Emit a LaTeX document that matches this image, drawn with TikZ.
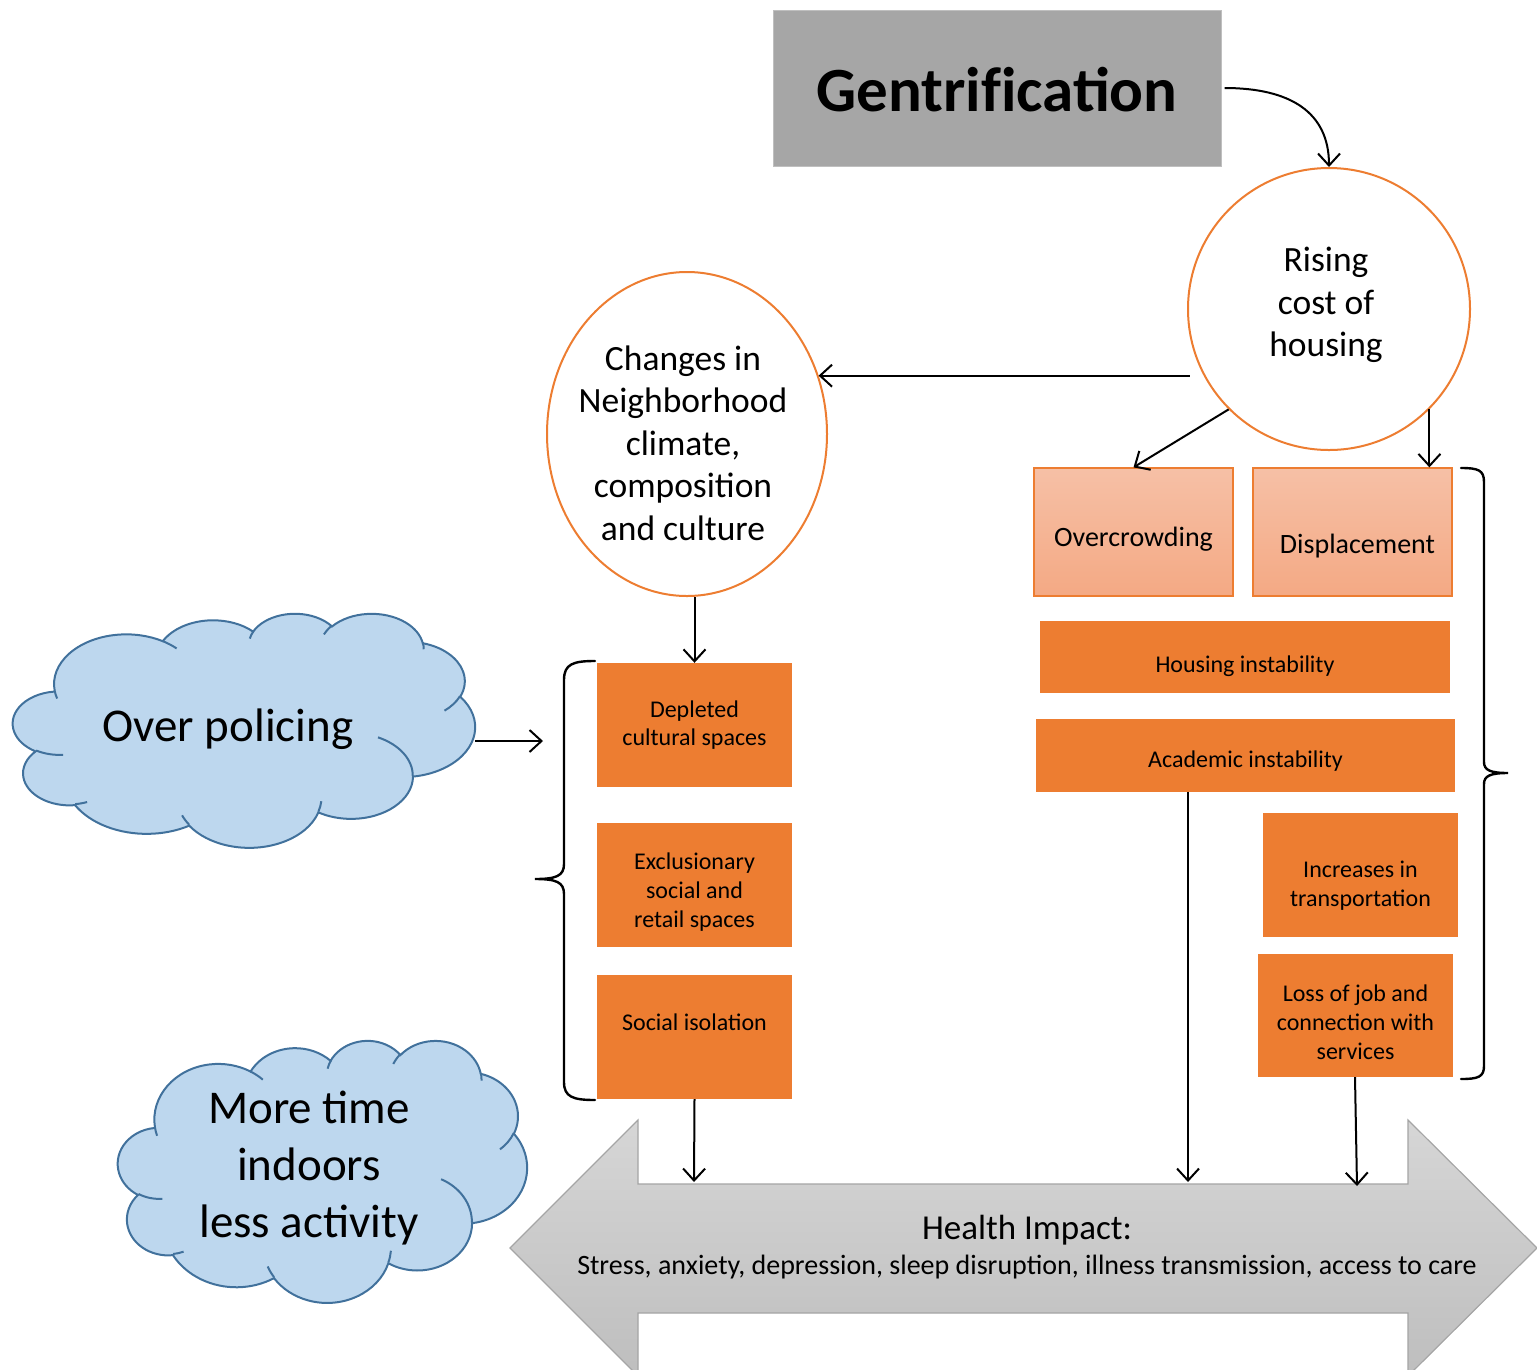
\documentclass[tikz,border=0pt]{standalone}
\usepackage{fontspec}
\setmainfont{Carlito}
\usetikzlibrary{arrows.meta,shapes.geometric}
\definecolor{gentgray}{HTML}{A6A6A6}
\definecolor{gentline}{HTML}{BFBFBF}
\definecolor{orng}{HTML}{ED7D31}
\definecolor{salmtop}{HTML}{F6C0A6}
\definecolor{salmbot}{HTML}{F4A984}
\definecolor{cloudfill}{HTML}{BDD7EE}
\definecolor{cloudline}{HTML}{41719C}
\definecolor{hatop}{HTML}{D6D6D6}
\definecolor{habot}{HTML}{BEBEBE}
\definecolor{haline}{HTML}{A5A5A5}
\newcommand\fsz[2]{\fontsize{#1}{#2}\selectfont}
\newcommand\lowered[2]{\raisebox{-#1}[\height][\depth]{\begin{tabular}{@{}c@{}}#2\end{tabular}}}
% PowerPoint-like cloud in a 432 x 432 frame
\newcommand\drawcloud[4]{%
\begin{scope}[shift={(#1,#2)},xscale=#3,yscale=#4]
\filldraw[cloudsty] (39.00,143.70)
 arc[start angle=172.25,end angle=300.37,x radius=67.53,y radius=91.90]
 arc[start angle=-152.02,end angle=-45.45,x radius=53.33,y radius=72.67]
 arc[start angle=-153.49,end angle=-37.33,x radius=43.65,y radius=59.45]
 arc[start angle=-139.72,end angle=-10.22,x radius=48.57,y radius=65.95]
 arc[start angle=-74.77,end angle=23.21,x radius=53.33,y radius=72.73]
 arc[start angle=-37.52,end angle=81.87,x radius=67.75,y radius=92.20]
 arc[start angle=0.46,end angle=121.98,x radius=57.85,y radius=78.67]
 arc[start angle=16.85,end angle=146.22,x radius=67.52,y radius=92.15]
 arc[start angle=58.98,end angle=150.18,x radius=77.20,y radius=105.43]
 arc[start angle=83.31,end angle=223.12,x radius=43.60,y radius=59.18]
 arc[start angle=120.36,end angle=264.11,x radius=43.45,y radius=59.45]
 -- cycle;
\draw[cloudfold]
 (46.93,261.77) arc[start angle=85.55,end angle=120.36,x radius=43.45,y radius=59.45]
 (69.28,348.99) arc[start angle=68.23,end angle=83.31,x radius=43.60,y radius=59.18]
 (164.78,390.90) arc[start angle=146.22,end angle=158.47,x radius=67.52,y radius=92.15]
 (288.27,347.51) arc[start angle=4.74,end angle=16.85,x radius=67.52,y radius=92.15]
 (341.29,229.54) arc[start angle=-64.03,end angle=0.46,x radius=57.85,y radius=78.67]
 (417.98,153.54) arc[start angle=23.21,end angle=49.64,x radius=53.33,y radius=72.73]
 (383.24,54.26) arc[start angle=-10.22,end angle=0.82,x radius=48.57,y radius=65.95]
 (290.78,39.52) arc[start angle=-156.29,end angle=-139.72,x radius=48.57,y radius=65.95]
 (221.41,47.20) arc[start angle=-167.72,end angle=-153.49,x radius=43.65,y radius=59.45]
 (140.00,51.92) arc[start angle=-59.63,end angle=-45.74,x radius=67.53,y radius=91.90]
 (41.27,157.89) arc[start angle=163.20,end angle=172.25,x radius=67.53,y radius=91.90];
\end{scope}}
\begin{document}
\begin{tikzpicture}[x=1pt,y=-1pt,
  arr/.style={line width=2pt,-{Straight Barb[length=12pt,width=22pt,line width=2pt]}},
  bracesty/.style={line width=2.4pt,line cap=round},
  cloudsty/.style={fill=cloudfill,draw=cloudline,line width=2pt},
  cloudfold/.style={draw=cloudline,line width=2pt},
  lightbox/.style={rectangle,draw=orng,line width=1.3pt,top color=salmtop,bottom color=salmbot,inner sep=0pt,font=\fsz{28}{33.6}},
  solidbox/.style={rectangle,fill=orng,inner sep=0pt,align=center,font=\fsz{24}{28.8}},
  bigtxt/.style={align=center,font=\fsz{35.5}{42.6},inner sep=0pt},
  cloudtxt/.style={align=center,font=\fsz{47}{57},inner sep=0pt},
  outline/.style={inner sep=0pt,outer sep=0pt}
]
\useasboundingbox (0,0) rectangle (1537,1369);
\clip (0,0) rectangle (1537,1369);

% ---------- health impact double arrow ----------
\path[top color=hatop,bottom color=habot,draw=haline,line width=1.2pt]
  (510,1248) -- (638,1120) -- (638,1184) -- (1408,1184) -- (1408,1120) -- (1537,1248)
  -- (1408,1376) -- (1408,1313) -- (638,1313) -- (638,1376) -- cycle;
\node[align=center,inner sep=0pt] (health) at (1027,1247)
  {\fsz{35}{42}Health Impact:\\[9pt]\fsz{28}{33.6}Stress, anxiety, depression, sleep disruption, illness transmission, access to care};
\coordinate (hit1) at (694,1182);
\coordinate (hit2) at (1188,1182);
\coordinate (hit3) at (1357,1186);

% ---------- top ----------
\node[rectangle,fill=gentgray,draw=gentline,line width=1pt,minimum width=448pt,minimum height=156pt,inner sep=0pt,
  font=\fsz{63}{75}\bfseries] (gent) at (997,88) {\raisebox{-2pt}[\height][\depth]{Gentrif\kern0pt ication}};
\node[circle,draw=orng,line width=2pt,fill=white,minimum size=282pt,inner sep=0pt] (rise) at (1329,309) {};
\node[bigtxt] (risetxt) at (1326,305) {Rising\\cost of\\housing};
\node[ellipse,draw=orng,line width=2pt,fill=white,minimum width=280pt,minimum height=324pt,inner sep=0pt] (changes) at (687,434) {};
\node[bigtxt] (changestxt) at (683,443) {Changes in\\Neighborhood\\climate,\\composition\\and culture};

% ---------- right column ----------
\node[lightbox,minimum width=199pt,minimum height=128pt] (over) at (1133.5,532) {\raisebox{-7pt}[\height][\depth]{Overcrowding}};
\node[lightbox,minimum width=199pt,minimum height=128pt] (disp) at (1352.5,532) {\hspace*{10pt}\raisebox{-14pt}[\height][\depth]{Displacement}};
\node[solidbox,minimum width=410pt,minimum height=72pt] (housing) at (1245,657) {\raisebox{-9pt}[\height][\depth]{Housing instability}};
\node[solidbox,minimum width=419pt,minimum height=73pt] (academic) at (1245.5,755.5) {\raisebox{-6pt}[\height][\depth]{Academic instability}};
\node[solidbox,minimum width=195pt,minimum height=124pt] (transp) at (1360.5,875) {\lowered{11pt}{Increases in\\transportation}};
\node[solidbox,minimum width=195pt,minimum height=123pt] (loss) at (1355.5,1015.5) {\lowered{9pt}{Loss of job and\\connection with\\services}};

% ---------- left column ----------
\node[solidbox,minimum width=195pt,minimum height=124pt] (dep) at (694.5,725) {Depleted\\cultural spaces};
\node[solidbox,minimum width=195pt,minimum height=124pt] (excl) at (694.5,885) {\lowered{8pt}{Exclusionary\\social and\\retail spaces}};
\node[solidbox,minimum width=195pt,minimum height=124pt] (soc) at (694.5,1037) {Social isolation\\~};

% ---------- clouds ----------
\drawcloud{13}{613}{1.06944}{0.54167}
\node[outline,minimum width=462pt,minimum height=234pt] (cloud1) at (244,730) {};
\node[cloudtxt] (cloud1txt) at (228,729) {Over policing};
\drawcloud{118}{1040}{0.94676}{0.60648}
\node[outline,minimum width=409pt,minimum height=262pt] (cloud2) at (322.5,1171) {};
\node[cloudtxt] (cloud2txt) at (309,1168) {More time\\indoors\\less activity};

% ---------- braces ----------
\draw[bracesty] (595,661) .. controls (573,661) and (564,664) .. (564,680) -- (564,864)
  .. controls (564,876) and (556,879) .. (535,879)
  .. controls (556,879) and (564,882) .. (564,894) -- (564,1082)
  .. controls (564,1097) and (573,1100) .. (595,1100);
\draw[bracesty] (1461,468) .. controls (1478,468) and (1484,470) .. (1484,482) -- (1484,762)
  .. controls (1484,770) and (1490,773) .. (1508,773)
  .. controls (1490,773) and (1484,776) .. (1484,784) -- (1484,1066)
  .. controls (1484,1077) and (1478,1079) .. (1461,1079);

% ---------- connectors ----------
\draw[arr] ([xshift=3pt]gent.east) .. controls (1290,88) and (1329,112) .. (rise.north);
\draw[arr] ([xshift=-14pt]rise.208) -- (rise.208 -| changes.24);
\draw[arr] (rise.225) -- (over.north);
\draw[arr] (rise.315) -- (rise.315 |- disp.north);
\draw[arr] (dep.north |- changes.south) -- (dep.north);
\coordinate (bl) at (543,741);
\draw[arr] (cloud1.east |- bl) -- (bl);
\draw[arr] (soc.south) -- (hit1);
\draw[arr] (academic.south -| hit2) -- (hit2);
\draw[arr] ([xshift=-0.5pt]loss.south) -- (hit3);
\end{tikzpicture}
\end{document}
